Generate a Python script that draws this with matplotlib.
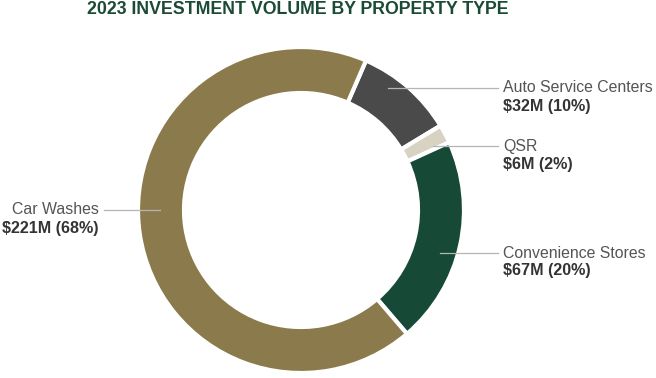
import matplotlib
matplotlib.use("Agg")
import matplotlib.pyplot as plt

title = "2023 INVESTMENT VOLUME BY PROPERTY TYPE"
categories = ["Auto Service Centers", "QSR", "Convenience Stores", "Car Washes"]
values = [32, 6, 67, 221]  # $M
value_labels = ["$32M (10%)", "$6M (2%)", "$67M (20%)", "$221M (68%)"]
colors = ["#4a4a4a", "#d8d2c2", "#174a36", "#8b7a4b"]

W, H = 656, 378
fig = plt.figure(figsize=(W / 100, H / 100), dpi=100)
ax = fig.add_axes([0, 0, 1, 1])

cx, cy = 301, H - 210
ax.pie(
    values,
    colors=colors,
    startangle=66.5,
    counterclock=False,
    center=(cx, cy),
    radius=163,
    frame=True,
    wedgeprops=dict(width=46, edgecolor="white", linewidth=3),
)
ax.set_xlim(0, W)
ax.set_ylim(0, H)
ax.set_aspect("equal")
ax.axis("off")

font = "Liberation Sans"
fig.text(0.5 * (88 + 508) / W, 1 - 10 / H, title, ha="center", va="center",
         fontsize=12.8, fontweight="bold", color="#1b4a35", family=font)

# label anchors: (line start x, line end x, y) in pixels from top-left
anchors = [
    (388, 498, 88, "left"),
    (433, 498, 146, "left"),
    (440, 498, 253, "left"),
    (160, 104, 210, "right"),
]
for (x0, x1, y, side), name, val in zip(anchors, categories, value_labels):
    yy = H - y
    ax.plot([x0, x1], [yy, yy], color="#b5b5b5", lw=0.9)
    tx = x1 + 5 if side == "left" else x1 - 5
    ax.text(tx, yy, name, ha=side, va="center", fontsize=11.4,
            color="#555555", family=font)
    ax.text(tx, yy - 18, val, ha=side, va="center", fontsize=11.6,
            fontweight="bold", color="#333333", family=font)

fig.savefig("out.png", dpi=100)
